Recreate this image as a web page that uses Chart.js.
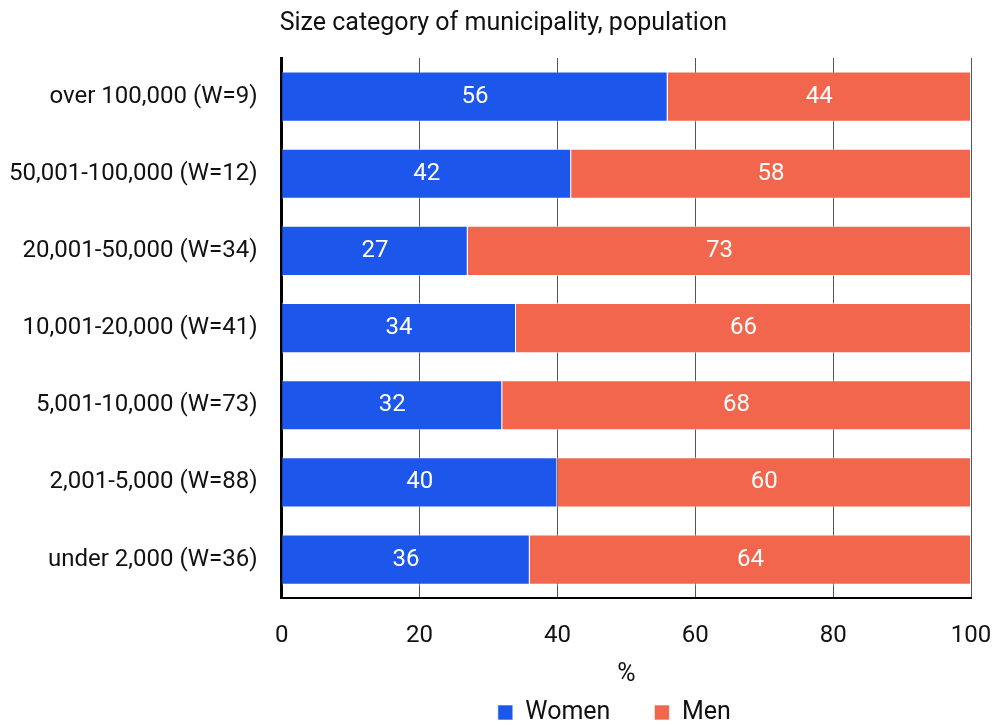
<!DOCTYPE html>
<html>
<head>
<meta charset="utf-8">
<script src="https://cdn.jsdelivr.net/npm/chart.js@4/dist/chart.umd.min.js"></script>
<style>
  html, body { margin: 0; padding: 0; background: #fff; }
  #wrap { width: 992px; height: 725px; }
</style>
</head>
<body>
<div id="wrap"><canvas id="canvas1"></canvas></div>
<script>
var categories = [
  'over 100,000 (W=9)',
  '50,001-100,000 (W=12)',
  '20,001-50,000 (W=34)',
  '10,001-20,000 (W=41)',
  '5,001-10,000 (W=73)',
  '2,001-5,000 (W=88)',
  'under 2,000 (W=36)'
];
var women = [56, 42, 27, 34, 32, 40, 36];
var men = [44, 58, 73, 66, 68, 60, 64];
var xTicks = [0, 20, 40, 60, 80, 100];
var chartTitle = 'Size category of municipality, population';

Chart.defaults.font.family = 'Roboto, sans-serif';
Chart.defaults.font.size = 24;
Chart.defaults.color = '#111';

// title drawn over the left edge of the plot area
var topTitle = {
  id: 'topTitle',
  afterDraw: function(chart) {
    var c = chart.ctx;
    c.save();
    c.font = '25px Roboto, sans-serif';
    c.fillStyle = '#111';
    c.textAlign = 'left';
    c.textBaseline = 'middle';
    c.fillText(chartTitle, chart.chartArea.left - 2, 24);
    c.restore();
  }
};

// value labels in the middle of each bar
var barLabels = {
  id: 'barLabels',
  afterDatasetsDraw: function(chart) {
    var c = chart.ctx;
    c.save();
    c.font = '24px Roboto, sans-serif';
    c.fillStyle = '#fff';
    c.textAlign = 'center';
    c.textBaseline = 'middle';
    chart.data.datasets.forEach(function(ds, i) {
      chart.getDatasetMeta(i).data.forEach(function(bar, j) {
        var mid = (bar.x + bar.base) / 2;
        c.fillText(ds.data[j], mid, bar.y);
      });
    });
    c.restore();
  }
};

// legend sits a bit right of the canvas centre, under the plot
var legendShift = {
  id: 'legendShift',
  afterLayout: function(chart) {
    var lg = chart.legend;
    var dx = (chart.chartArea.left + chart.chartArea.right) / 2 - (lg.left + lg.right) / 2 - 12;
    lg.left += dx;
    lg.right += dx;
  }
};

var ctx1 = document.getElementById('canvas1').getContext('2d');
window.myBar = new Chart(ctx1, {
  type: 'bar',
  data: {
    labels: categories,
    datasets: [{
      label: 'Women',
      data: women,
      backgroundColor: '#1c56eb',
      borderColor: 'rgba(255,255,255,0.6)',
      borderWidth: 1,
      barPercentage: 0.65,
      categoryPercentage: 1
    }, {
      label: 'Men',
      data: men,
      backgroundColor: '#f2664e',
      borderColor: 'rgba(255,255,255,0.6)',
      borderWidth: 1,
      barPercentage: 0.65,
      categoryPercentage: 1
    }]
  },
  options: {
    indexAxis: 'y',
    responsive: true,
    maintainAspectRatio: false,
    animation: false,
    layout: {
      padding: { top: 58, right: 0, left: -15, bottom: -10 }
    },
    scales: {
      x: {
        stacked: true,
        min: 0,
        max: 100,
        afterBuildTicks: function(axis) {
          axis.ticks = xTicks.map(function(v) { return { value: v }; });
        },
        afterFit: function(axis) {
          // only leave room for half of the "100" label on the right
          axis.paddingRight = 21;
        },
        grid: { color: '#555', lineWidth: 1, drawTicks: false },
        border: { color: '#000', width: 2 },
        ticks: { padding: 23, color: '#111' },
        title: { display: true, text: '%', font: { size: 25 }, padding: { top: -13, bottom: -34 } }
      },
      y: {
        stacked: true,
        grid: { display: false, drawTicks: false },
        border: { color: '#000', width: 3 },
        ticks: { padding: 24, color: '#111' }
      }
    },
    plugins: {
      legend: {
        position: 'bottom',
        labels: { boxWidth: 15, boxHeight: 15, padding: 44, color: '#111', font: { size: 25 } }
      },
      tooltip: { enabled: false }
    }
  },
  plugins: [topTitle, barLabels, legendShift]
});
</script>
</body>
</html>
